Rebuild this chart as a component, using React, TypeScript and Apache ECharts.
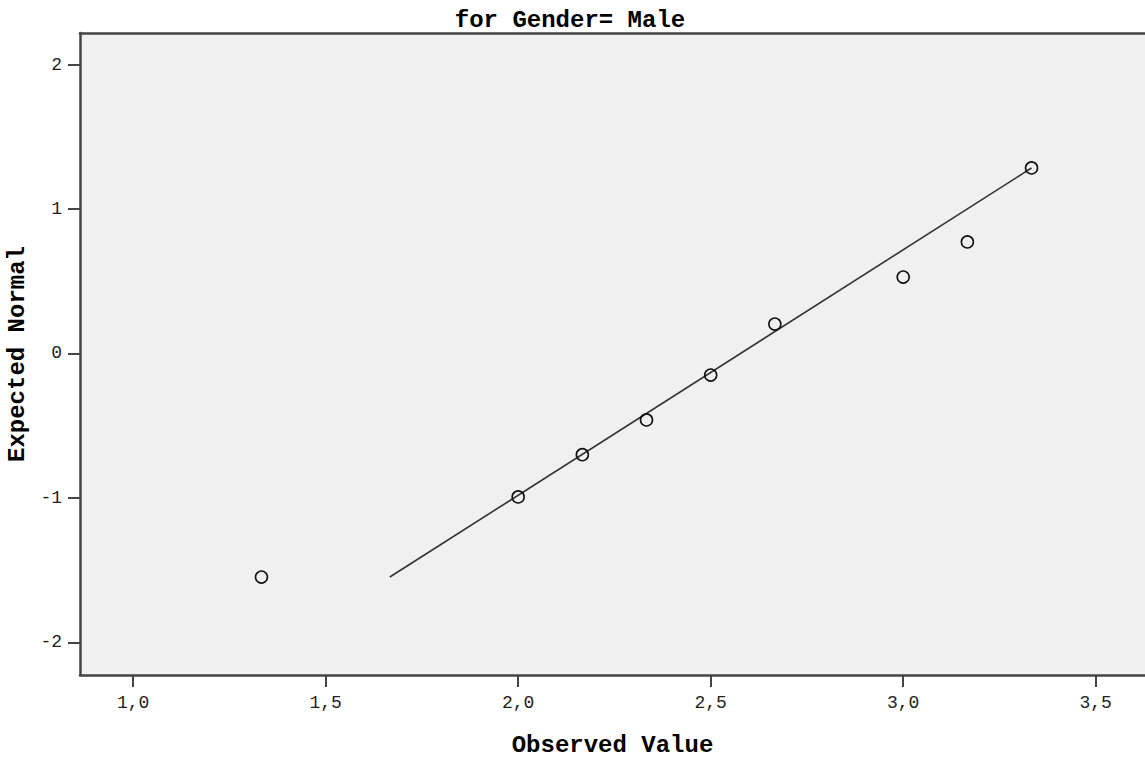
import React, { useEffect, useRef } from "react";
import * as echarts from "echarts";

const observed = [1.3333, 2.0, 2.1667, 2.3333, 2.5, 2.6667, 3.0, 3.1667, 3.3333];
const expectedNormal = [-1.547, -0.993, -0.70, -0.46, -0.149, 0.204, 0.529, 0.772, 1.284];
const refLineX = [1.6667, 3.3333];
const refLineY = [-1.547, 1.284];
const xTicks = [1.0, 1.5, 2.0, 2.5, 3.0, 3.5];
const yTicks = [-2, -1, 0, 1, 2];

const MONO = "'Liberation Mono', 'DejaVu Sans Mono', monospace";

export default function App() {
  const ref = useRef<HTMLDivElement>(null);
  useEffect(() => {
    if (!ref.current) return;
    const chart = echarts.init(ref.current, null, { renderer: "svg" });
    const axisColor = "#444";
    chart.setOption({
      animation: false,
      backgroundColor: "#ffffff",
      title: {
        text: "for Gender= Male",
        left: 565,
        textAlign: "center",
        top: 3,
        textStyle: { fontFamily: MONO, fontWeight: "bold", fontSize: 24, color: "#000" },
      },
      grid: {
        left: 80,
        right: 0,
        top: 33,
        bottom: 82,
        containLabel: false,
        outerBoundsMode: "none",
        show: true,
        backgroundColor: "#f0f0f0",
        borderWidth: 0,
      },
      xAxis: [
        {
          type: "value",
          min: 0.862,
          max: 3.628,
          position: "bottom",
          name: "Observed Value",
          nameLocation: "middle",
          nameGap: 58,
          nameTextStyle: { fontFamily: MONO, fontWeight: "bold", fontSize: 24, color: "#000" },
          splitLine: { show: false },
          axisLine: { show: true, onZero: false, lineStyle: { color: axisColor, width: 2.5 } },
          axisTick: { show: true, length: 12, inside: false, customValues: xTicks, lineStyle: { color: axisColor, width: 2 } },
          axisLabel: {
            customValues: xTicks,
            margin: 19,
            fontFamily: MONO,
            fontSize: 18,
            color: "#222",
            formatter: (v: number) => v.toFixed(1).replace(".", ","),
          },
        },
        {
          type: "value",
          min: 0.862,
          max: 3.628,
          position: "top",
          splitLine: { show: false },
          axisLine: { show: true, onZero: false, lineStyle: { color: axisColor, width: 2.5 } },
          axisTick: { show: false },
          axisLabel: { show: false },
        },
      ],
      yAxis: {
        type: "value",
        min: -2.225,
        max: 2.218,
        name: "Expected Normal",
        nameLocation: "middle",
        nameGap: 46,
        nameTextStyle: { fontFamily: MONO, fontWeight: "bold", fontSize: 24, color: "#000" },
        splitLine: { show: false },
        axisLine: { show: true, onZero: false, lineStyle: { color: axisColor, width: 2.5 } },
        axisTick: { show: true, length: 12, inside: false, customValues: yTicks, lineStyle: { color: axisColor, width: 2 } },
        axisLabel: {
          customValues: yTicks,
          margin: 18,
          fontFamily: MONO,
          fontSize: 18,
          color: "#222",
          formatter: (v: number) => String(v),
        },
      },
      series: [
        {
          type: "line",
          data: refLineX.map((x, i) => [x, refLineY[i]]),
          symbol: "none",
          lineStyle: { color: "#333", width: 1.6 },
          z: 2,
        },
        {
          type: "scatter",
          data: observed.map((x, i) => [x, expectedNormal[i]]),
          symbol: "circle",
          symbolSize: 12,
          itemStyle: { color: "rgba(0,0,0,0)", borderColor: "#111", borderWidth: 1.6, opacity: 1 },
          z: 3,
        },
      ],
    });
    return () => chart.dispose();
  }, []);
  return (
    <div
      ref={ref}
      style={{ position: "fixed", left: 0, top: 0, width: 1145, height: 757, background: "#fff" }}
    />
  );
}
